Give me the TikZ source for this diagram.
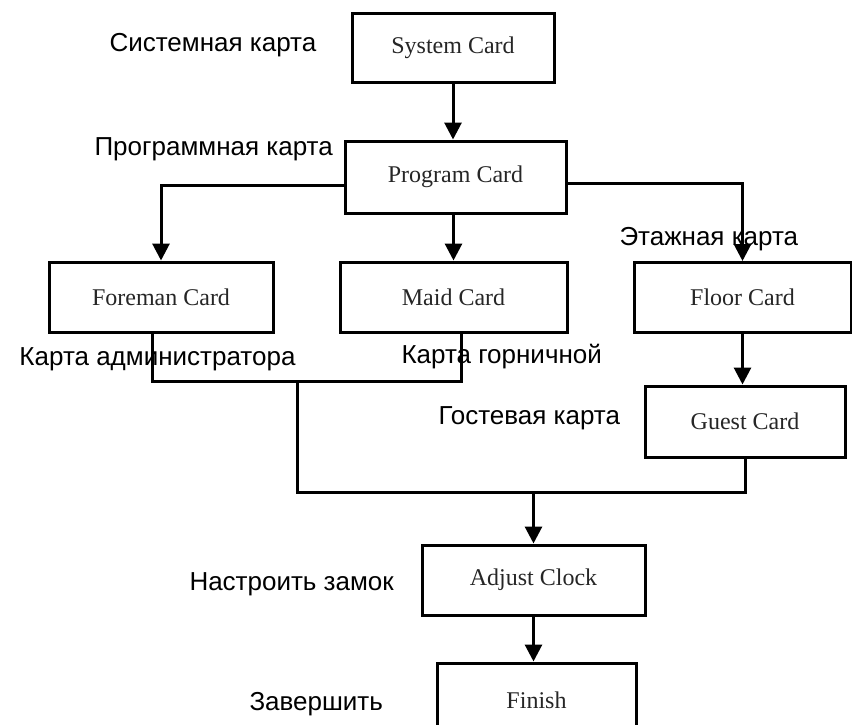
\documentclass[tikz,border=0pt]{standalone}
\usetikzlibrary{arrows.meta}
\usepackage{xcolor}
\usepackage{fontspec}
\setmainfont{Liberation Serif}
\newfontfamily\ruslabel{Liberation Sans}

\begin{document}
\begin{tikzpicture}[x=1pt, y=-1pt, line width=3pt,
        card/.style={draw=black, line width=3pt, fill=white, minimum width=222pt, minimum height=70pt,
                     text=black!85, font=\fontsize{24}{28}\selectfont},
        lbl/.style={anchor=base west, inner sep=0pt, font=\ruslabel\fontsize{26}{30}\selectfont},
        arr/.style={-{Triangle[width=17pt,length=17pt]}}]
        \useasboundingbox (0,0) rectangle (852,724);

        \node[card, minimum width=202pt, minimum height=69pt] (sys) at (453,47.5) {System Card};
        \node[card, minimum width=221pt, minimum height=72pt] (prog) at (455.5,177) {Program Card};
        \node[card, minimum width=224pt] (foreman) at (161,297) {Foreman Card};
        \node[card, minimum width=227pt] (maid) at (453.5,297) {Maid Card};
        \node[card, minimum width=217pt] (floor) at (742.5,297.5) {Floor Card};
        \node[card, minimum width=200pt, minimum height=71pt] (guest) at (745,421.5) {Guest Card};
        \node[card, minimum width=223pt] (adjust) at (533.5,580) {Adjust Clock};
        \node[card, minimum width=199pt, minimum height=74pt] (finish) at (536.5,700) {Finish};

        \coordinate (pl) at ([yshift=-8pt]prog.west);
        \coordinate (pr) at ([yshift=-6pt]prog.east);
        \coordinate (fb) at ([xshift=-9pt]foreman.south);
        \coordinate (mb) at ([xshift=7.5pt]maid.south);
        \coordinate (ja) at (297,381);
        \coordinate (jb) at (297,492);

        \draw[arr] (sys.south) -- (sys.south |- prog.north);
        \draw[arr] (pl) -| (foreman.north);
        \draw[arr] (maid.north |- prog.south) -- (maid.north);
        \draw[arr] (pr) -| (floor.north);
        \draw[arr] (floor.south) -- (floor.south |- guest.north);
        \draw (fb) |- (mb |- ja) -- (mb);
        \draw (ja) -- (jb) -| (guest.south);
        \draw[arr] (adjust.north |- jb) -- (adjust.north);
        \draw[arr] (adjust.south) -- (adjust.south |- finish.north);

        % russian captions
        \node[lbl] (lsys) at (108,51) {Системная карта};
        \node[lbl] (lprog) at (93,155) {Программная карта};
        \node[lbl] (lfloor) at (618,245) {Этажная карта};
        \node[lbl] (lforeman) at (18,365) {Карта администратора};
        \node[lbl] (lmaid) at (400,363) {Карта горничной};
        \node[lbl] (lguest) at (437,424) {Гостевая карта};
        \node[lbl] (ladjust) at (188,590) {Настроить замок};
        \node[lbl] (lfinish) at (248,710) {Завершить};
\end{tikzpicture}
\end{document}
